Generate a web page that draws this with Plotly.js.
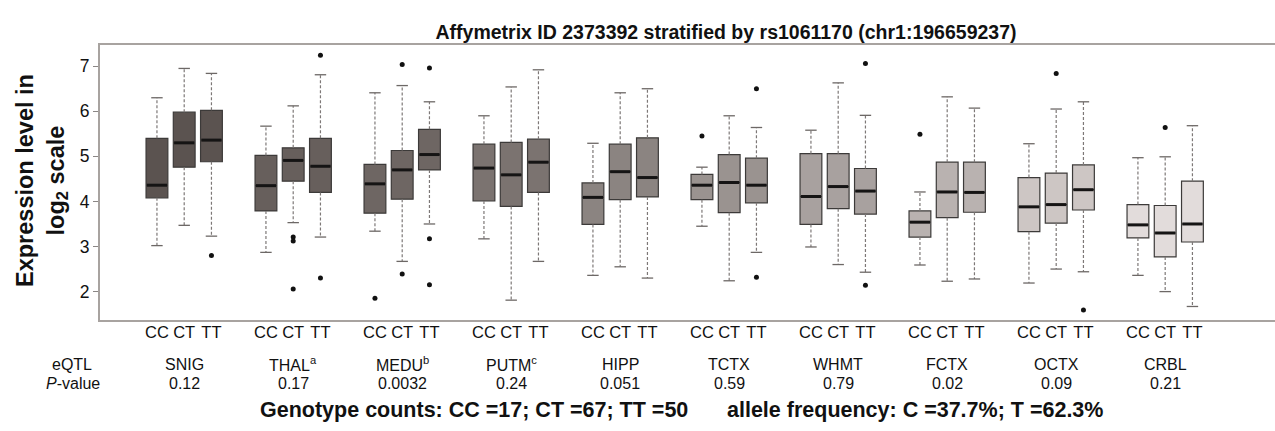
<!DOCTYPE html>
<html><head><meta charset="utf-8">
<script src="https://cdn.plot.ly/plotly-3.0.1.min.js"></script>
<style>html,body{margin:0;padding:0;background:#fff;overflow:hidden}</style>
</head><body><div id="chart" style="width:1275px;height:431px"></div>
<script>
// ---- data ----
const tissues = ['SNIG','THAL','MEDU','PUTM','HIPP','TCTX','WHMT','FCTX','OCTX','CRBL'];
const tissueLabels = ['SNIG','THAL<sup>a</sup>','MEDU<sup>b</sup>','PUTM<sup>c</sup>','HIPP','TCTX','WHMT','FCTX','OCTX','CRBL'];
const pValues = ['0.12','0.17','0.0032','0.24','0.051','0.59','0.79','0.02','0.09','0.21'];
const genotypes = ['CC','CT','TT'];
// per tissue: [CC, CT, TT]
const upperWhisker = [
  [6.30,6.95,6.84],[5.67,6.12,6.81],[6.41,6.57,6.21],[5.90,6.54,6.92],[5.29,6.41,6.50],
  [4.76,5.90,5.64],[5.58,6.63,5.91],[4.21,6.32,6.07],[5.28,6.05,6.21],[4.97,4.99,5.68]];
const q3 = [
  [5.40,5.98,6.02],[5.02,5.19,5.40],[4.82,5.13,5.60],[5.27,5.31,5.38],[4.41,5.27,5.41],
  [4.60,5.04,4.96],[5.06,5.06,4.73],[3.79,4.87,4.87],[4.53,4.63,4.81],[3.93,3.91,4.45]];
const median = [
  [4.36,5.30,5.36],[4.35,4.91,4.78],[4.39,4.70,5.04],[4.74,4.59,4.87],[4.09,4.66,4.53],
  [4.36,4.42,4.36],[4.11,4.33,4.23],[3.54,4.21,4.20],[3.88,3.93,4.26],[3.48,3.30,3.50]];
const q1 = [
  [4.08,4.76,4.88],[3.79,4.45,4.20],[3.74,4.05,4.70],[4.01,3.89,4.20],[3.49,4.04,4.10],
  [4.04,3.75,3.97],[3.49,3.84,3.72],[3.21,3.64,3.76],[3.33,3.52,3.81],[3.19,2.77,3.10]];
const lowerWhisker = [
  [3.02,3.47,3.23],[2.87,3.53,3.21],[3.34,2.67,3.50],[3.17,1.81,2.67],[2.36,2.55,2.30],
  [3.45,2.24,2.87],[2.99,2.60,2.43],[2.59,2.23,2.28],[2.19,2.50,2.44],[2.36,2.00,1.67]];
const outliers = [
  [[],[],[2.80]],
  [[],[3.21,3.12,2.06],[7.24,2.30]],
  [[1.85],[7.04,2.39],[6.96,3.17,2.15]],
  [[],[],[]],
  [[],[],[]],
  [[5.45],[],[6.50,2.32]],
  [[],[],[7.06,2.14]],
  [[5.49],[],[]],
  [[],[6.84],[1.59]],
  [[],[5.64],[]]];
const yTicks = [2,3,4,5,6,7];
const genotypeCounts = 'Genotype counts: CC =17; CT =67; TT =50';
const alleleFreq = 'allele frequency: C =37.7%; T =62.3%';
const chartTitle = 'Affymetrix ID 2373392 stratified by rs1061170 (chr1:196659237)';

// ---- style ----
const fillColors = ['#5b5350','#675f5c','#6e6663','#7b7370','#8b8481','#9a9390','#a8a19f','#b9b2b0','#cdc6c4','#e2dcdb'];
const FONT = 'Liberation Sans, Arial, sans-serif';
const frameColor = '#a8a3a0';
const boxW = 0.8, capHalf = 0.21;
const pos = (g,j) => 4*g + j + 1;

const traces = [];
const whX=[], whY=[], capX=[], capY=[], medX=[], medY=[], outX=[], outY=[];
const allPos=[], allTick=[];
tissues.forEach((t,g)=>{
  const xs = genotypes.map((_,j)=>pos(g,j));
  traces.push({type:'box', x:xs, q1:q1[g], median:median[g], q3:q3[g],
    lowerfence:q1[g], upperfence:q3[g], width:boxW, fillcolor:fillColors[g],
    line:{color:'#3c3a39', width:1.2}, boxpoints:false, hoverinfo:'skip', showlegend:false});
  genotypes.forEach((gt,j)=>{
    const x = xs[j];
    allPos.push(x); allTick.push(gt);
    whX.push(x,x,null,x,x,null);
    whY.push(q3[g][j],upperWhisker[g][j],null,q1[g][j],lowerWhisker[g][j],null);
    capX.push(x-capHalf,x+capHalf,null,x-capHalf,x+capHalf,null);
    capY.push(upperWhisker[g][j],upperWhisker[g][j],null,lowerWhisker[g][j],lowerWhisker[g][j],null);
    medX.push(x-boxW/2+0.03,x+boxW/2-0.03,null);
    medY.push(median[g][j],median[g][j],null);
    outliers[g][j].forEach(v=>{outX.push(x); outY.push(v);});
  });
});
traces.push({type:'scatter',mode:'lines',x:whX,y:whY,line:{color:'#7d7877',width:1.2,dash:'3px,2px'},hoverinfo:'skip',showlegend:false});
traces.push({type:'scatter',mode:'lines',x:capX,y:capY,line:{color:'#6d6866',width:1.3},hoverinfo:'skip',showlegend:false});
traces.push({type:'scatter',mode:'lines',x:medX,y:medY,line:{color:'#151414',width:3},hoverinfo:'skip',showlegend:false});
traces.push({type:'scatter',mode:'markers',x:outX,y:outY,marker:{color:'#111',size:5},hoverinfo:'skip',showlegend:false});

const plotL=100, plotR=1275, plotT=45, plotB=320;
const px2paperX = p => (p-plotL)/(plotR-plotL);
const px2paperY = p => (plotB-p)/(plotB-plotT);

const annotations = [];
tissues.forEach((t,g)=>{
  annotations.push({xref:'x',yref:'paper',x:pos(g,1),y:px2paperY(364),text:tissueLabels[g],showarrow:false,
    font:{family:FONT,size:16,color:'#111'},xanchor:'center',yanchor:'middle'});
  annotations.push({xref:'x',yref:'paper',x:pos(g,1),y:px2paperY(383),text:pValues[g],showarrow:false,
    font:{family:FONT,size:16,color:'#111'},xanchor:'center',yanchor:'middle'});
});
annotations.push({xref:'paper',yref:'paper',x:px2paperX(72),y:px2paperY(364),text:'eQTL',showarrow:false,
  font:{family:FONT,size:16,color:'#111'},xanchor:'center',yanchor:'middle'});
annotations.push({xref:'paper',yref:'paper',x:px2paperX(73),y:px2paperY(383),text:'<i>P</i>-value',showarrow:false,
  font:{family:FONT,size:16,color:'#111'},xanchor:'center',yanchor:'middle'});
annotations.push({xref:'paper',yref:'paper',x:px2paperX(690),y:px2paperY(410),text:'<b>'+genotypeCounts+'</b>',showarrow:false,
  font:{family:FONT,size:21.5,color:'#111'},xanchor:'right',yanchor:'middle'});
annotations.push({xref:'paper',yref:'paper',x:px2paperX(725),y:px2paperY(410),text:'<b>'+alleleFreq+'</b>',showarrow:false,
  font:{family:FONT,size:21.5,color:'#111'},xanchor:'left',yanchor:'middle'});
annotations.push({xref:'paper',yref:'paper',x:px2paperX(41),y:px2paperY(181),text:'<b>Expression level in<br>log<sub>2</sub> scale</b>',
  showarrow:false,textangle:-90,font:{family:FONT,size:23.5,color:'#111'},xanchor:'center',yanchor:'middle'});

const layout = {
  width:1275, height:431,
  margin:{l:plotL, r:1275-plotR, t:plotT, b:431-plotB, pad:0},
  paper_bgcolor:'#fff', plot_bgcolor:'#fff',
  title:{text:'<b>'+chartTitle+'</b>', x:726/1275, xref:'container', xanchor:'center',
    y:1-32/431, yref:'container', yanchor:'middle', font:{family:FONT,size:19.5,color:'#111'}},
  xaxis:{range:[-1.09,42.03], tickvals:allPos, ticktext:allTick, ticks:'', ticklabelstandoff:-4, showgrid:false, zeroline:false,
    showline:true, mirror:true, linecolor:frameColor, linewidth:2, tickfont:{family:FONT,size:16.5,color:'#111'}, fixedrange:true},
  yaxis:{range:[1.37,7.47], tickvals:yTicks, ticks:'outside', ticklen:5, tickcolor:'#8a8685', tickwidth:1.2,
    showgrid:false, zeroline:false, showline:true, mirror:false, linecolor:frameColor, linewidth:2,
    tickfont:{family:FONT,size:17.5,color:'#111'}, fixedrange:true},
  annotations: annotations,
  font:{family:FONT}
};
Plotly.newPlot('chart', traces, layout, {staticPlot:true, displayModeBar:false});
</script>
</body></html>
